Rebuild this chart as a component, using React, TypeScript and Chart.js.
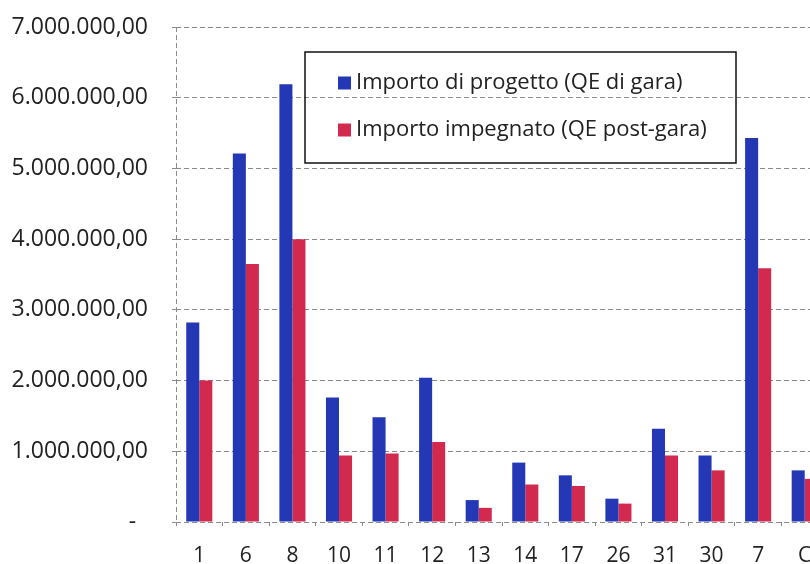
import React, { useEffect, useRef } from "react";
import { Chart, registerables } from "chart.js";

Chart.register(...registerables);

const categories: string[] = ["1", "6", "8", "10", "11", "12", "13", "14", "17", "26", "31", "30", "7", "C"];
const progettoValues: number[] = [2820000, 5210000, 6190000, 1760000, 1480000, 2040000, 310000, 840000, 660000, 330000, 1320000, 940000, 5430000, 730000];
const impegnatoValues: number[] = [2000000, 3650000, 4000000, 940000, 970000, 1130000, 200000, 530000, 510000, 260000, 940000, 730000, 3590000, 610000];
const seriesLabels: string[] = ["Importo di progetto (QE di gara)", "Importo impegnato (QE post-gara)"];
const yTicks: number[] = [0, 1000000, 2000000, 3000000, 4000000, 5000000, 6000000, 7000000];

const BLUE = "#2438b6";
const RED = "#d2294e";
const FONT = "'Open Sans', Lato, sans-serif";
const GRID = "#8a8a8a";

function fmt(v: number): string {
  if (v === 0) return "-  ";
  const intPart = Math.round(v).toString().replace(/\B(?=(\d{3})+(?!\d))/g, ".");
  return intPart + ",00";
}

const boxLegend = {
  id: "boxLegend",
  afterDraw(chart: any) {
    const ctx = chart.ctx;
    ctx.save();
    ctx.strokeStyle = "#111";
    ctx.lineWidth = 1.5;
    ctx.strokeRect(305, 52, 431, 111);
    const rows = [83, 130];
    chart.data.datasets.forEach((ds: any, i: number) => {
      const y = rows[i];
      ctx.fillStyle = ds.backgroundColor;
      ctx.fillRect(338, y - 6.5, 13, 13);
      ctx.fillStyle = "#222";
      ctx.font = `22px ${FONT}`;
      ctx.textBaseline = "middle";
      ctx.textAlign = "left";
      ctx.fillText(ds.label, 356, y);
    });
    ctx.restore();
  },
};

export default function App() {
  const ref = useRef<HTMLCanvasElement | null>(null);
  useEffect(() => {
    if (!ref.current) return;
    const chart = new Chart(ref.current, {
      type: "bar",
      data: {
        labels: categories,
        datasets: [
          { label: seriesLabels[0], data: progettoValues, backgroundColor: BLUE, borderWidth: 0 },
          { label: seriesLabels[1], data: impegnatoValues, backgroundColor: RED, borderWidth: 0 },
        ],
      },
      options: {
        responsive: false,
        animation: false,
        devicePixelRatio: 1,
        layout: { padding: { top: 27, left: 0, right: 0, bottom: 0 } },
        datasets: { bar: { categoryPercentage: 0.56, barPercentage: 1 } },
        plugins: { legend: { display: false }, tooltip: { enabled: false } },
        scales: {
          x: {
            grid: {
              display: true,
              drawOnChartArea: true,
              color: (c: any) => (c.index === 0 ? GRID : "rgba(0,0,0,0)"),
              drawTicks: true,
              tickLength: 4,
              tickColor: GRID,
              lineWidth: 1,
            },
            border: { display: false, dash: [5, 3] },
            ticks: { color: "#222", font: { family: FONT, size: 21 }, padding: 17, maxRotation: 0, autoSkip: false },
            afterFit: (s: any) => { s.height = 42; s.paddingLeft = 0; s.paddingRight = 0; },
          },
          y: {
            min: 0,
            max: 7000000,
            afterBuildTicks: (s: any) => { s.ticks = yTicks.map((v) => ({ value: v })); },
            grid: { color: GRID, lineWidth: 1, drawTicks: true, tickLength: 4 },
            border: { display: false, dash: [5, 3] },
            ticks: { color: "#222", font: { family: FONT, size: 23 }, padding: 24, callback: (v: any) => fmt(Number(v)) },
            afterFit: (s: any) => { s.width = 176; s.paddingTop = 0; s.paddingBottom = 0; },
          },
        },
      },
      plugins: [boxLegend],
    });
    return () => chart.destroy();
  }, []);
  return (
    <div style={{ position: "fixed", left: 0, top: 0, width: 810, height: 564, overflow: "hidden", background: "#fff" }}>
      <canvas ref={ref} width={828} height={564} style={{ display: "block" }} />
    </div>
  );
}
